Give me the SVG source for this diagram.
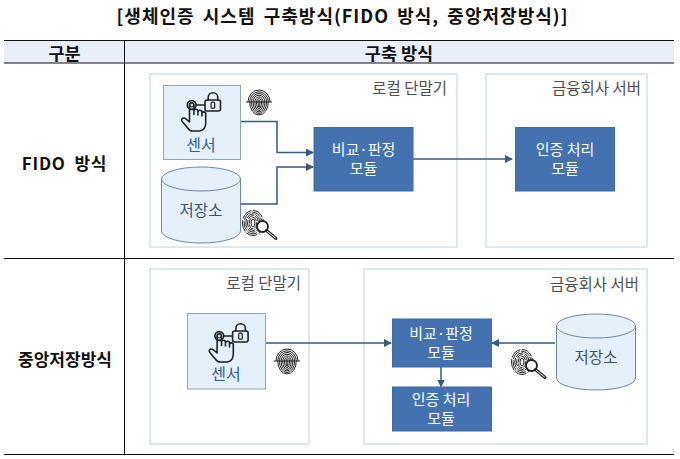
<svg xmlns="http://www.w3.org/2000/svg" xmlns:xlink="http://www.w3.org/1999/xlink" width="680" height="459" viewBox="0 0 680 459">
<style>
text{font-family:"Noto Sans CJK KR","Noto Sans",sans-serif}
.rule{stroke:#111;fill:none}
.head{font-size:17.5px;font-weight:700;fill:#111;text-anchor:middle}
.row{font-size:17px;font-weight:700;fill:#111;text-anchor:middle}
.panel{fill:#fff;stroke:#dbe8f4;stroke-width:2}
.ptext{font-size:15.5px;fill:#505050;text-anchor:end}
.sensor{fill:#e6f0fb;stroke:#8ea6c2;stroke-width:1}
.cyl{fill:#e6f0fb;stroke:#6f87a3;stroke-width:1}
.stext{font-size:16px;fill:#2f5f96;text-anchor:middle}
.dtext{font-size:15.5px;fill:#3b5270;text-anchor:middle}
.mod{fill:#4472b0;stroke:#3f6ba6;stroke-width:1}
.mtext{font-size:15px;fill:#fff;text-anchor:middle}
.conn{fill:none;stroke:#345a85;stroke-width:1.5}
.ic{fill:none;stroke:#222;stroke-width:1.6;stroke-linejoin:round;stroke-linecap:round}
.fp{fill:none;stroke:#222;stroke-width:1}
</style>
<defs>
<marker id="arr" markerWidth="8" markerHeight="8" refX="7" refY="4" orient="auto" markerUnits="userSpaceOnUse"><path d="M0,0L8,4L0,8Z" fill="#345a85"/></marker>
<g id="touch">
<circle class="ic" cx="0" cy="0" r="4.400"/><circle cx="0" cy="0" r="2" fill="none" stroke="#222" stroke-width="1.200"/>
<path class="ic" d="M4.400,0H13"/>
<rect class="ic" x="13.300" y="-5" width="15.500" height="11" rx="2"/>
<path class="ic" d="M16.500,-5V-7.500a4.800,4.800 0 0 1 9.600,0V-5"/>
<rect x="19.400" y="-2.800" width="3.600" height="6" rx="1" fill="none" stroke="#222" stroke-width="1.200"/>
<path class="ic" d="M-2.200,17V0a2.200,2.200 0 0 1 4.400,0V9.500V6.200a2,2 0 0 1 4,0V10V7.200a2,2 0 0 1 4,0V11V8.800a1.900,1.900 0 0 1 3.800,0V18q0,7 -6,8H1q-3,0 -5,-3L-9.500,16.500q-1.500,-2.500 1,-3.500q2,-.5 6.300,4"/>
</g>
<g id="print">
<path class="fp" d="M-11,0a11,12 0 0 1 22,0M-9.300,0a9.300,10.200 0 0 1 18.600,0M-7.600,0a7.600,8.500 0 0 1 15.200,0M-5.900,0a5.900,6.800 0 0 1 11.800,0M-4.200,0a4.200,5.100 0 0 1 8.400,0M-2.500,0a2.500,3.400 0 0 1 5,0M-.9,0a.9,1.700 0 0 1 1.800,0"/>
<path class="fp" d="M-9.300,0a9.300,13 0 0 0 18.600,0M-7.600,0a7.600,11.500 0 0 0 15.200,0M-5.900,0a5.900,10 0 0 0 11.800,0M-4.200,0a4.200,8.500 0 0 0 8.400,0M-2.500,0a2.500,7 0 0 0 5,0M-.9,0a.9,5.500 0 0 0 1.800,0"/>
<path d="M-13,0H13" stroke="#222" stroke-width="1"/>
</g>
<g id="printlens">
<ellipse class="fp" cx="0" cy="0" rx="10.500" ry="12.500" stroke-dasharray="12 1.500"/>
<ellipse class="fp" cx="0" cy="0" rx="8.800" ry="10.800" stroke-dasharray="10 1.200"/>
<ellipse class="fp" cx="0" cy="0" rx="7.100" ry="9.100" stroke-dasharray="9 1.200"/>
<ellipse class="fp" cx="0" cy="0" rx="5.400" ry="7.400" stroke-dasharray="7 1"/>
<ellipse class="fp" cx="0" cy="0" rx="3.700" ry="5.700" stroke-dasharray="6 1"/>
<ellipse class="fp" cx="0" cy="0" rx="2" ry="4"/>
<circle cx="9.500" cy="3.500" r="5.500" fill="#fff" stroke="#222" stroke-width="1.800"/>
<path d="M13.500,7.500L23,15.500" stroke="#222" stroke-width="3" stroke-linecap="round"/>
<path d="M14.500,8.500L22.500,15" stroke="#fff" stroke-width="1" stroke-linecap="round"/>
</g>
</defs>

<rect width="680" height="459" fill="#fff"/>

<g id="title"><text x="342" y="23" font-size="18" font-weight="700" fill="#111" text-anchor="middle" word-spacing="3" textLength="451" lengthAdjust="spacing">[생체인증 시스템 구축방식(FIDO 방식, 중앙저장방식)]</text></g>

<g id="table">
<rect x="4" y="41" width="670" height="22" fill="#e9eef8"/>
<path class="rule" stroke-width="1" d="M4,40.500H674M4,63H674M4,258.500H674M4,454.500H674M124.500,40.500V454.500"/>
<text class="head" x="64.500" y="60">구분</text>
<text class="head" x="399" y="60">구축 방식</text>
<text class="row" x="64.500" y="169.500" letter-spacing=".8" word-spacing="4">FIDO 방식</text>
<text class="row" x="65" y="365.500">중앙저장방식</text>
</g>

<g id="panel-local-1"><rect class="panel" x="150" y="74" width="307" height="173"/><text class="ptext" x="447" y="94">로컬 단말기</text></g>
<g id="panel-server-1"><rect class="panel" x="486" y="74" width="161" height="173"/><text class="ptext" x="641" y="94">금융회사 서버</text></g>
<g id="panel-local-2"><rect class="panel" x="150" y="269" width="159" height="175"/><text class="ptext" x="301" y="289">로컬 단말기</text></g>
<g id="panel-server-2"><rect class="panel" x="364" y="269" width="283" height="175"/><text class="ptext" x="639" y="290">금융회사 서버</text></g>

<g id="connectors">
<path class="conn" marker-end="url(#arr)" d="M241,121.500H277V152.500H313"/>
<path class="conn" marker-end="url(#arr)" d="M241,204H277V167H313"/>
<path class="conn" stroke-width="1" marker-end="url(#arr)" d="M413,159H512"/>
<path class="conn" marker-end="url(#arr)" d="M265.500,343H391"/>
<path class="conn" marker-end="url(#arr)" d="M555,343H492"/>
<path class="conn" marker-end="url(#arr)" d="M441,367V386.500"/>
</g>

<g id="sensor-1"><rect class="sensor" x="163.500" y="85.500" width="77" height="74"/><use href="#touch" xlink:href="#touch" x="191.700" y="105"/><text class="stext" x="201" y="151">센서</text></g>
<g id="fingerprint-1"><use href="#print" xlink:href="#print" x="259" y="102"/></g>
<g id="storage-1"><path class="cyl" d="M161.500,179V231A39.500,12 0 0 0 240.500,231V179Z"/><ellipse class="cyl" cx="201" cy="179" rx="39.500" ry="12"/><text class="dtext" x="201" y="216">저장소</text></g>
<g id="lens-1"><use href="#printlens" xlink:href="#printlens" x="253" y="223"/></g>
<g id="compare-1"><rect class="mod" x="314" y="127.500" width="99" height="63.500"/><text class="mtext" x="363.500" y="155">비교·판정</text><text class="mtext" x="363.500" y="174">모듈</text></g>
<g id="auth-1"><rect class="mod" x="515.500" y="127.500" width="99" height="63.500"/><text class="mtext" x="565" y="154.500">인증 처리</text><text class="mtext" x="565" y="173.500">모듈</text></g>

<g id="sensor-2"><rect class="sensor" x="187.500" y="313.500" width="78" height="75.500"/><use href="#touch" xlink:href="#touch" x="219.300" y="336"/><text class="stext" x="226" y="380">센서</text></g>
<g id="fingerprint-2"><use href="#print" xlink:href="#print" x="287" y="361"/></g>
<g id="compare-2"><rect class="mod" x="392.500" y="319" width="99" height="48"/><text class="mtext" x="441" y="339">비교·판정</text><text class="mtext" x="441" y="358">모듈</text></g>
<g id="auth-2"><rect class="mod" x="392.500" y="387" width="99" height="44"/><text class="mtext" x="441" y="405">인증 처리</text><text class="mtext" x="441" y="424">모듈</text></g>
<g id="storage-2"><path class="cyl" d="M556.500,326V378A39.500,12 0 0 0 635.500,378V326Z"/><ellipse class="cyl" cx="596" cy="326" rx="39.500" ry="12"/><text class="dtext" x="596" y="363">저장소</text></g>
<g id="lens-2"><use href="#printlens" xlink:href="#printlens" x="522" y="362"/></g>
</svg>
